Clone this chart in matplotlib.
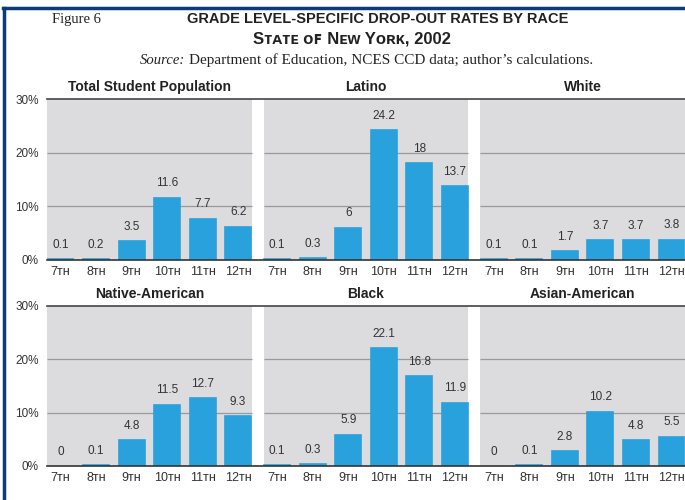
import matplotlib
matplotlib.use("Agg")
import matplotlib.pyplot as plt
from matplotlib.lines import Line2D

plt.rcParams['font.family'] = ['Liberation Sans', 'DejaVu Sans']

# Data
grades = ["7ᴛʜ", "8ᴛʜ", "9ᴛʜ", "10ᴛʜ", "11ᴛʜ", "12ᴛʜ"]
groups_top = ["Total Student Population", "Latino", "White"]
groups_bottom = ["Native-American", "Black", "Asian-American"]

total = [0.1, 0.2, 3.5, 11.6, 7.7, 6.2]
latino = [0.1, 0.3, 6, 24.2, 18, 13.7]
white = [0.1, 0.1, 1.7, 3.7, 3.7, 3.8]
native = [0, 0.1, 4.8, 11.5, 12.7, 9.3]
black = [0.1, 0.3, 5.9, 22.1, 16.8, 11.9]
asian = [0, 0.1, 2.8, 10.2, 4.8, 5.5]

yticks = [0, 10, 20, 30]

bar_color = "#29a1dc"
panel_gray = "#dcdcde"
navy = "#0b3b78"
text_col = "#333333"

stride = 6.1
pad = 0.38
width = 0.73

fig = plt.figure(figsize=(6.85, 5), dpi=100)


def draw_row(ax, names, series):
    ax.set_facecolor("white")
    xs_all = []
    for g, (name, vals) in enumerate(zip(names, series)):
        x0 = g * stride
        xs = [x0 + i for i in range(len(vals))]
        xs_all += xs
        ax.axvspan(x0 - pad, x0 + 5 + pad, color=panel_gray, zorder=0, lw=0)
        ax.hlines([10, 20], x0 - pad, x0 + 5 + pad, color="#9a9a9a", lw=0.9, zorder=1)
        # thin outline keeps the 0.1 bars visible, as in the print
        ax.bar(xs, vals, width=width, color=bar_color, edgecolor=bar_color,
               linewidth=[1.2 if v > 0 else 0 for v in vals], zorder=2)
        for x, v in zip(xs, vals):
            ax.annotate("{:g}".format(v), (x, v), xytext=(0, 6), textcoords="offset points",
                        ha="center", va="bottom", fontsize=8.5, color=text_col)
        ax.text(x0 + 2.5, 1.03, name, transform=ax.get_xaxis_transform(),
                ha="center", va="bottom", fontsize=10, fontweight="bold", color="#222222")
    ax.set_xlim(-pad, 2 * stride + 5 + pad)
    ax.set_ylim(0, 30)
    ax.set_yticks(yticks)
    ax.set_yticklabels(["{}%".format(t) for t in yticks], fontsize=8.5, color=text_col)
    ax.set_xticks(xs_all)
    ax.set_xticklabels(grades * 3, fontsize=9, color=text_col)
    ax.tick_params(length=0, pad=4)
    ax.tick_params(axis="y", pad=6)
    for s in ["left", "right"]:
        ax.spines[s].set_visible(False)
    ax.spines["top"].set_color("#444444")
    ax.spines["top"].set_linewidth(1.2)
    ax.spines["bottom"].set_color("#333333")
    ax.spines["bottom"].set_linewidth(1.2)


ax1 = fig.add_axes([0.0686, 0.48, 0.9314, 0.322])
draw_row(ax1, groups_top, [total, latino, white])
ax2 = fig.add_axes([0.0686, 0.068, 0.9314, 0.32])
draw_row(ax2, groups_bottom, [native, black, asian])

# titles
fig.text(0.076, 0.962, "Figure 6", family="Liberation Serif", fontsize=10.5,
         color="#222222", ha="left", va="center")
fig.text(0.552, 0.962, "GRADE LEVEL-SPECIFIC DROP-OUT RATES BY RACE",
         fontsize=10.5, fontweight="bold", color="#222222", ha="center", va="center")
fig.text(0.514, 0.923, "Sᴛᴀᴛᴇ ᴏꜰ Nᴇᴡ Yᴏʀᴋ, 2002",
         fontsize=12, fontweight="bold", color="#222222", ha="center", va="center")
fig.text(0.204, 0.880, "Source:", family="Liberation Serif", style="italic",
         fontsize=10.5, color="#222222", ha="left", va="center")
fig.text(0.276, 0.880, "Department of Education, NCES CCD data; author\u2019s calculations.",
         family="Liberation Serif", fontsize=11, color="#222222", ha="left", va="center")

# navy frame on top and left edges
fig.add_artist(Line2D([0.005, 1.0], [0.984, 0.984], color=navy, lw=2.5,
                      transform=fig.transFigure))
fig.add_artist(Line2D([0.006, 0.006], [0.0, 0.985], color=navy, lw=2.5,
                      transform=fig.transFigure))

fig.savefig("out.png", dpi=100)
